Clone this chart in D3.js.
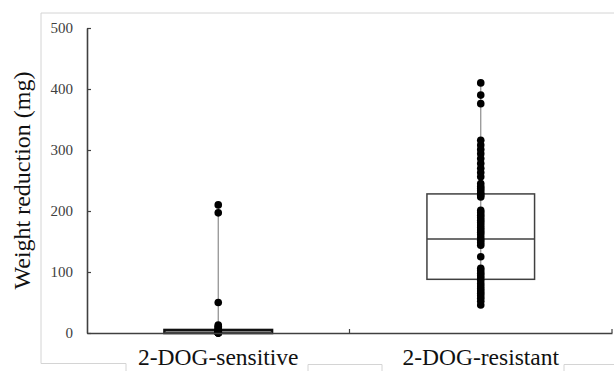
<!DOCTYPE html>
<html>
<head>
<meta charset="utf-8">
<script src="https://cdn.jsdelivr.net/npm/d3@7"></script>
<style>
  body { margin: 0; background: #fff; }
  svg { display: block; }
  .tick text { font-family: "Liberation Serif", "Times New Roman", serif; }
</style>
</head>
<body>
<div id="wrapper"></div>
<script>
// data
const groups = ["2-DOG-sensitive", "2-DOG-resistant"]
const sensitiveValues = [210, 197, 50, 13, 11, 9, 7, 5, 4, 3, 2, 1, 1, 0, 0, 0]
const resistantValues = [410, 390, 376, 316, 308, 301, 294, 286, 278, 270, 263, 256, 245,
    240, 237, 233, 229, 226, 223, 201, 197, 193, 189, 185, 181, 177, 173, 169, 165, 161,
    156, 152, 148, 144, 125, 106, 102, 98, 94, 90, 86, 81, 77, 73, 69, 65, 61, 57, 52, 46]
// box stats: [whisker low, q1, median, q3, whisker high]
const sensitiveBox = [0, 0, 1, 5, 210]
const resistantBox = [46, 88, 154, 228, 410]
const yTicks = [0, 100, 200, 300, 400, 500]

const series = [
    { name: groups[0], values: sensitiveValues, box: sensitiveBox },
    { name: groups[1], values: resistantValues, box: resistantBox },
]

const dimensions = {
    width: 614,
    height: 371,
    margin: { top: 28, right: 2, bottom: 38, left: 87 },
}
dimensions.boundedWidth = dimensions.width - dimensions.margin.left - dimensions.margin.right
dimensions.boundedHeight = dimensions.height - dimensions.margin.top - dimensions.margin.bottom

const wrapper = d3.select("#wrapper")
    .append("svg")
    .attr("width", dimensions.width)
    .attr("height", dimensions.height)

// outer frame, broken under the category label boxes
const frame = d3.path()
frame.moveTo(dimensions.width + 5, 13)
frame.lineTo(41, 13)
frame.lineTo(41, 363.5)
frame.lineTo(126, 363.5)
frame.lineTo(126, dimensions.height + 5)
frame.moveTo(308, dimensions.height + 5)
frame.lineTo(308, 364.5)
frame.lineTo(382, 364.5)
frame.lineTo(382, dimensions.height + 5)
frame.moveTo(564, dimensions.height + 5)
frame.lineTo(564, 364.5)
frame.lineTo(dimensions.width + 5, 364.5)
wrapper.append("path")
    .attr("d", frame.toString())
    .attr("fill", "none")
    .attr("stroke", "#d4d4d4")
    .attr("stroke-width", 1)

const bounds = wrapper.append("g")
    .attr("transform", `translate(${dimensions.margin.left},${dimensions.margin.top})`)

// scales
const xScale = d3.scaleBand()
    .domain(groups)
    .range([0, dimensions.boundedWidth])
const yScale = d3.scaleLinear()
    .domain([0, 500])
    .range([dimensions.boundedHeight, 0])

const boxWidth = xScale.bandwidth() * 0.41

// boxes
const boxGroups = bounds.selectAll(".box")
    .data(series)
    .join("g")
    .attr("class", "box")
    .attr("transform", d => `translate(${xScale(d.name) + xScale.bandwidth() / 2},0)`)

boxGroups.append("line")
    .attr("y1", d => yScale(d.box[0]))
    .attr("y2", d => yScale(d.box[4]))
    .attr("stroke", "#8c8c8c")
    .attr("stroke-width", 1.2)

boxGroups.append("rect")
    .attr("x", -boxWidth / 2)
    .attr("width", boxWidth)
    .attr("y", d => yScale(d.box[3]))
    .attr("height", d => yScale(d.box[1]) - yScale(d.box[3]))
    .attr("fill", "none")
    .attr("stroke", "#404040")
    .attr("stroke-width", 1.5)

boxGroups.append("line")
    .attr("x1", -boxWidth / 2)
    .attr("x2", boxWidth / 2)
    .attr("y1", d => yScale(d.box[2]))
    .attr("y2", d => yScale(d.box[2]))
    .attr("stroke", "#404040")
    .attr("stroke-width", 1.5)

// thin sensitive box looks solid black
boxGroups.filter(d => d.name === groups[0]).select("rect")
    .attr("stroke", "#111")
    .attr("stroke-width", 2.5)

// dots
boxGroups.selectAll("circle")
    .data(d => d.values)
    .join("circle")
    .attr("cx", 0)
    .attr("cy", d => yScale(d))
    .attr("r", 3.8)
    .attr("fill", "#000")

// y axis
const yAxisGenerator = d3.axisLeft()
    .scale(yScale)
    .tickValues(yTicks)
    .tickSize(-4)
    .tickSizeOuter(0)
    .tickPadding(14)

const yAxis = bounds.append("g")
    .call(yAxisGenerator)
yAxis.select(".domain").attr("stroke", "#404040").attr("stroke-width", 1.6)
yAxis.selectAll(".tick line").attr("stroke", "#404040").attr("stroke-width", 1.2)
yAxis.selectAll(".tick text")
    .attr("fill", "#404040")
    .style("font-size", "15px")

// x axis
const xAxisGenerator = d3.axisBottom()
    .scale(xScale)
    .tickSize(0)
    .tickSizeOuter(0)
    .tickPadding(15)

const xAxis = bounds.append("g")
    .call(xAxisGenerator)
    .attr("transform", `translate(0,${dimensions.boundedHeight})`)
xAxis.select(".domain").attr("stroke", "#404040").attr("stroke-width", 1.6)
xAxis.selectAll(".tick text")
    .attr("fill", "#111")
    .style("font-size", "23.5px")

// category separators, ticks pointing up
xAxis.selectAll(".sep")
    .data(groups)
    .join("line")
    .attr("class", "sep")
    .attr("x1", d => xScale(d) + xScale.bandwidth())
    .attr("x2", d => xScale(d) + xScale.bandwidth())
    .attr("y1", 0)
    .attr("y2", -4)
    .attr("stroke", "#404040")
    .attr("stroke-width", 1.2)

// y axis title
wrapper.append("text")
    .attr("transform", `translate(30,${dimensions.margin.top + dimensions.boundedHeight / 2}) rotate(-90)`)
    .attr("text-anchor", "middle")
    .style("font-family", "'Liberation Serif', 'Times New Roman', serif")
    .style("font-size", "24px")
    .attr("fill", "#111")
    .text("Weight reduction (mg)")
</script>
</body>
</html>
